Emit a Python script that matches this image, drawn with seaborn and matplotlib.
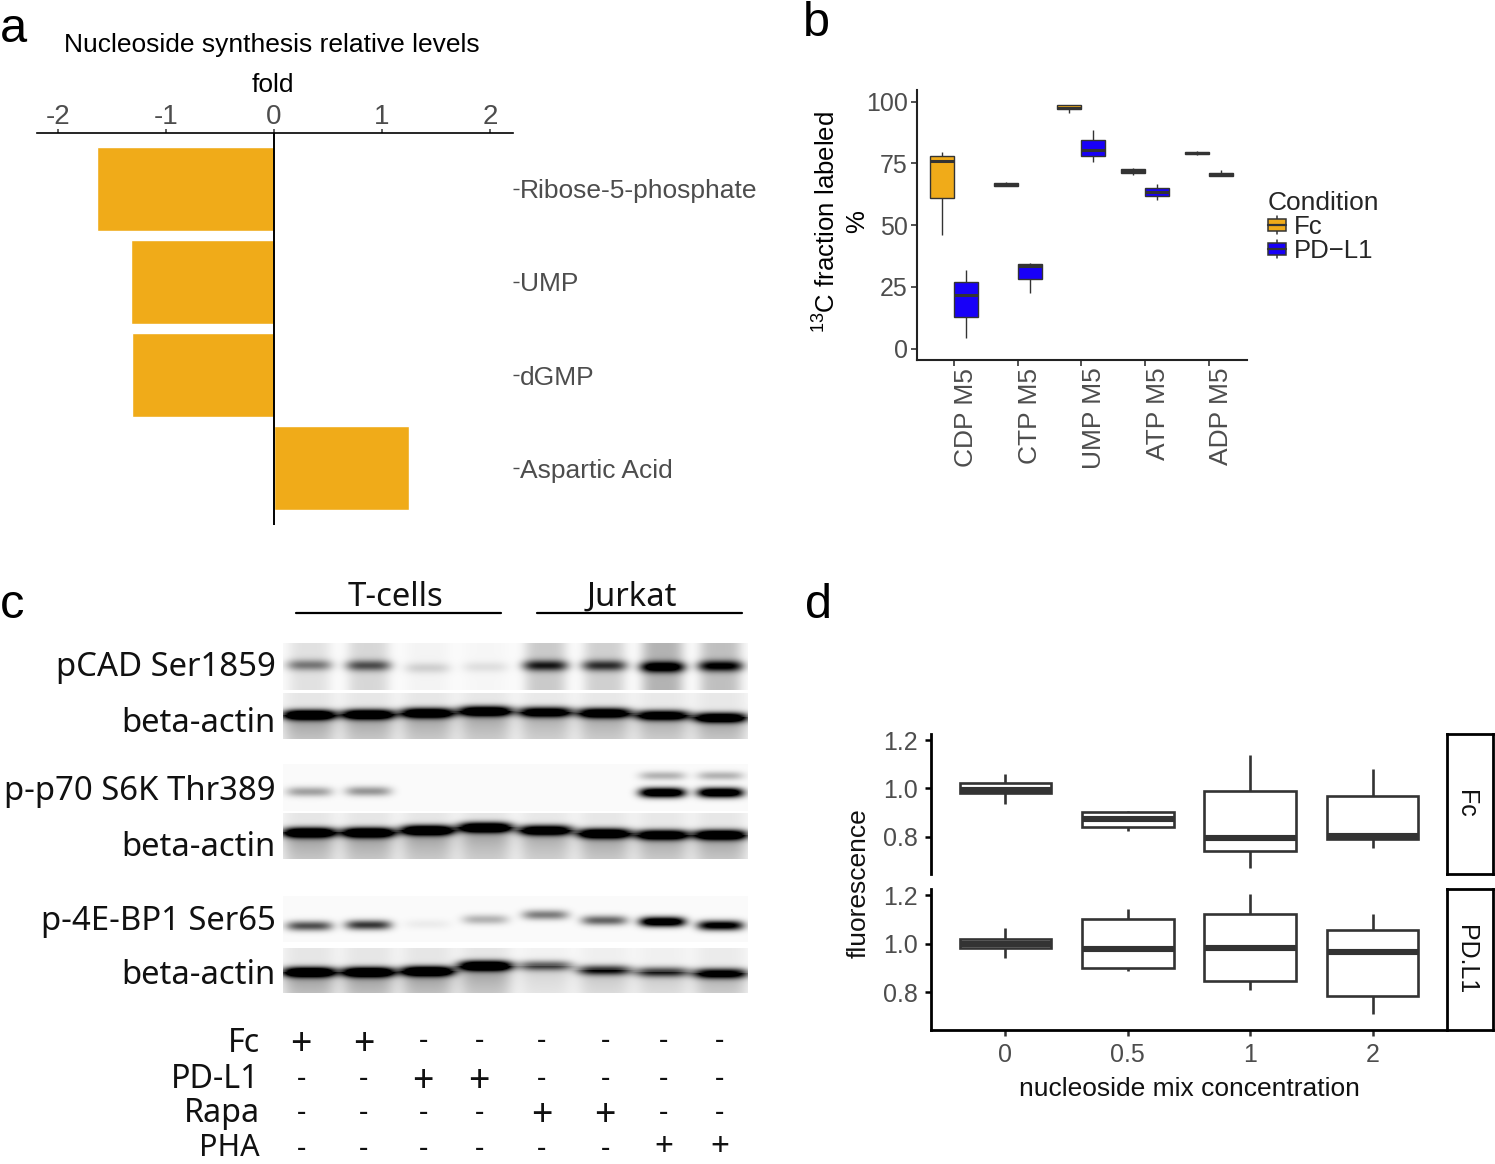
import numpy as np
import pandas as pd
import matplotlib
matplotlib.use('Agg')
import matplotlib.pyplot as plt
import matplotlib.patches as mpatches
from matplotlib.legend_handler import HandlerBase
from matplotlib.lines import Line2D
from matplotlib.transforms import ScaledTranslation
import seaborn as sns

# Panel a values
metabolites = ['Ribose-5-phosphate', 'UMP', 'dGMP', 'Aspartic Acid']
fold_values = [-1.64, -1.32, -1.31, 1.25]

# Panel b, each row is low whisker, q1, median, q3, high whisker
nucleotides = ['CDP M5', 'CTP M5', 'UMP M5', 'ATP M5', 'ADP M5']
fc_labeled = [[46, 61, 75.9, 77.8, 79.7],
              [65.7, 65.9, 66.4, 66.9, 67.3],
              [95.5, 96.9, 97.4, 98.6, 98.8],
              [70.3, 71.3, 72.1, 72.9, 73],
              [78.2, 78.7, 79.3, 79.8, 80]]
pdl1_labeled = [[4.5, 12.9, 21.7, 26.8, 32],
                [22.6, 28, 33.6, 34.1, 34.8],
                [75.6, 77.9, 80.4, 84.6, 88.6],
                [60.3, 61.8, 63.3, 65.2, 66.8],
                [69.8, 69.9, 70.5, 71.1, 72.2]]

# Panel d, same row layout
concentrations = ['0', '0.5', '1', '2']
fc_fluor = [[0.936, 0.983, 0.993, 1.021, 1.061],
            [0.824, 0.842, 0.875, 0.901, 0.908],
            [0.671, 0.739, 0.794, 0.9875, 1.14],
            [0.751, 0.79, 0.803, 0.967, 1.08]]
pdl1_fluor = [[0.94, 0.982, 1.0, 1.018, 1.065],
              [0.8875, 0.901, 0.979, 1.104, 1.144],
              [0.811, 0.847, 0.982, 1.121, 1.207],
              [0.71, 0.787, 0.965, 1.056, 1.122]]

# Panel c, band darkness per lane and band height inside the strip
blot_labels = ['pCAD Ser1859', 'beta-actin', 'p-p70 S6K Thr389', 'beta-actin', 'p-4E-BP1 Ser65', 'beta-actin']
pcad_dark = [0.42, 0.55, 0.14, 0.09, 0.72, 0.65, 1.0, 0.85]
pcad_pos = [0.46, 0.47, 0.52, 0.5, 0.47, 0.47, 0.5, 0.48]
actin1_dark = [1.0, 0.95, 0.95, 0.95, 0.85, 0.9, 0.85, 0.9]
actin1_pos = [0.46, 0.45, 0.42, 0.38, 0.40, 0.42, 0.47, 0.52]
p70_dark = [0.25, 0.28, 0, 0, 0, 0, 1.0, 1.0]
p70_pos = [0.58, 0.57, 0.5, 0.5, 0.5, 0.5, 0.6, 0.6]
actin2_dark = [1.0, 1.0, 1.0, 1.0, 0.9, 0.95, 0.9, 0.95]
actin2_pos = [0.41, 0.41, 0.36, 0.30, 0.36, 0.43, 0.46, 0.46]
bp1_dark = [0.48, 0.55, 0.04, 0.2, 0.35, 0.42, 0.95, 0.8]
bp1_pos = [0.64, 0.62, 0.6, 0.5, 0.4, 0.52, 0.55, 0.63]
actin3_dark = [1.0, 1.0, 1.0, 1.0, 0.42, 0.55, 0.5, 0.75]
actin3_pos = [0.52, 0.52, 0.5, 0.38, 0.38, 0.48, 0.52, 0.55]

# Treatment table under the blots
treatments = ['Fc', 'PD-L1', 'Rapa', 'PHA']
fc_signs = ['+', '+', '-', '-', '-', '-', '-', '-']
pdl1_signs = ['-', '-', '+', '+', '-', '-', '-', '-']
rapa_signs = ['-', '-', '-', '-', '+', '+', '-', '-']
pha_signs = ['-', '-', '-', '-', '-', '-', '+', '+']

ORANGE = '#F0AB19'
BLUE = '#1800F8'
DARK = '#333333'
TICK = '#4D4D4D'
W, H = 1495, 1164
C_FONT = ['Noto Sans', 'DejaVu Sans']

sns.set_theme(style='white')
plt.rcParams['font.family'] = ['Liberation Sans', 'DejaVu Sans']
plt.rcParams['mathtext.default'] = 'regular'

fig = plt.figure(figsize=(W / 100, H / 100), dpi=100)


def px_axes(left, top, right, bottom):
    return fig.add_axes([left / W, 1 - bottom / H, (right - left) / W, (bottom - top) / H])


def px_text(x, y, s, **kw):
    kw.setdefault('va', 'center')
    return fig.text(x / W, 1 - y / H, s, **kw)


def long_boxes(rows, groups, group_name):
    # five number rows to a long table, whiskers come out as min and max
    return pd.DataFrame([{group_name: g, 'value': v} for g, row in zip(groups, rows) for v in row])


# a: fold change bars
ax_a = px_axes(37, 133, 513, 525)
sns.barplot(x=fold_values, y=metabolites, color=ORANGE, saturation=1, width=0.9, orient='h', ax=ax_a)
ax_a.set_xlim(-2.194, 2.213)
ax_a.set_ylim(3.61, -0.6)
ax_a.axvline(0, color='black', lw=1.4)
ax_a.xaxis.tick_top()
ax_a.set_xticks([-2, -1, 0, 1, 2], ['-2', '-1', '0', '1', '2'])
ax_a.yaxis.tick_right()
ax_a.tick_params(axis='x', labelsize=20, labelcolor=TICK, length=3, color=TICK, pad=-1, top=True)
ax_a.tick_params(axis='y', labelsize=19, labelcolor=TICK, length=4, color=TICK, pad=1, right=True, width=1)
for side in ['left', 'right', 'bottom']:
    ax_a.spines[side].set_visible(False)
ax_a.spines['top'].set_color('black')
ax_a.spines['top'].set_linewidth(1.2)
px_text(271.5, 45, 'Nucleoside synthesis relative levels', fontsize=19, ha='center', color='black')
px_text(273, 85, 'fold', fontsize=19, ha='center', color='black')

# b: labeled fractions
ax_b = px_axes(917, 90, 1247, 360)
df_b = pd.concat([long_boxes(fc_labeled, nucleotides, 'metabolite').assign(condition='Fc'),
                  long_boxes(pdl1_labeled, nucleotides, 'metabolite').assign(condition='PD\u2212L1')])
sns.boxplot(data=df_b, x='metabolite', y='value', hue='condition', order=nucleotides,
            palette={'Fc': ORANGE, 'PD\u2212L1': BLUE}, saturation=1, width=0.75, gap=0,
            whis=(0, 100), fliersize=0, linewidth=1.0, linecolor=DARK,
            medianprops={'linewidth': 2.2}, capprops={'visible': False}, legend=False, ax=ax_b)
ax_b.set_xlim(-0.58, 4.6)
ax_b.set_ylim(-4.6, 104.7)
ax_b.set_yticks([0, 25, 50, 75, 100])
ax_b.tick_params(axis='x', labelsize=19, labelcolor=TICK, rotation=90, length=4, width=1.2, color=DARK, pad=1.5, bottom=True)
ax_b.tick_params(axis='y', labelsize=18, labelcolor=TICK, length=4, width=1.2, color=DARK, pad=2.5, left=True)
shift_right = ScaledTranslation(0.125, 0, fig.dpi_scale_trans)
for tick_label in ax_b.get_xticklabels():
    tick_label.set_transform(tick_label.get_transform() + shift_right)
ax_b.set_xlabel('')
ax_b.set_ylabel('$^{13}$C fraction labeled\n%', fontsize=18.5, color='black', labelpad=-2, linespacing=1.25)
ax_b.yaxis.label.set_y(0.511)
sns.despine(ax=ax_b)
for side in ['left', 'bottom']:
    ax_b.spines[side].set_color('#222222')
    ax_b.spines[side].set_linewidth(1.5)


class BoxKey(HandlerBase):
    # legend key in the ggplot look: box, median and a bit of whisker
    def create_artists(self, legend, orig, x0, y0, width, height, fontsize, trans):
        mid = x0 + width / 2
        cy = y0 + height / 2
        box = mpatches.Rectangle((x0, cy - 4.2), width, 8.4, facecolor=orig.get_facecolor(),
                                 edgecolor=DARK, lw=1.1, transform=trans)
        med = Line2D([x0, x0 + width], [cy, cy], color=DARK, lw=1.6, transform=trans)
        whisk = Line2D([mid, mid], [cy - 6.5, cy + 6.5], color=DARK, lw=1.1, transform=trans)
        return [whisk, box, med]


leg = fig.legend(handles=[mpatches.Patch(facecolor=ORANGE), mpatches.Patch(facecolor=BLUE)],
                 labels=['Fc', 'PD\u2212L1'], title='Condition', loc='upper left',
                 bbox_to_anchor=(1260 / W, 1 - 183 / H), frameon=False, fontsize=18.5, title_fontsize=19,
                 alignment='left', handler_map={mpatches.Patch: BoxKey()}, handlelength=0.7, handleheight=0.7,
                 handletextpad=0.3, labelspacing=-0.02, borderpad=0.3, borderaxespad=0)
leg._legend_box.sep = 0.35

# c: blots
lane_x = [301, 364, 423, 479, 542, 605, 664, 720]
band_x = [309, 368, 427, 485, 545, 604, 662, 720]
blot_rows = [
    (643, 690, pcad_dark, pcad_pos, 'smear'),
    (693, 739, actin1_dark, actin1_pos, 'tail'),
    (764, 811, p70_dark, p70_pos, 'double'),
    (813, 859, actin2_dark, actin2_pos, 'tail'),
    (896, 942, bp1_dark, bp1_pos, 'plain'),
    (948, 993, actin3_dark, actin3_pos, 'faint'),
]
blot_left, blot_right = 283, 748
label_y = [668, 723, 791, 848, 922, 975]
for (top, bottom, dark, pos, kind), label, ly in zip(blot_rows, blot_labels, label_y):
    ax_c = px_axes(blot_left, top, blot_right, bottom)
    h, w = bottom - top, blot_right - blot_left
    yy, xx = np.mgrid[0:h, 0:w]
    img = np.full((h, w), 0.02)
    for lane, d, p in zip(band_x, dark, pos):
        cx = lane - blot_left
        yc = p * h
        half = {'smear': 23, 'double': 23, 'plain': 23}.get(kind, 27)
        across = np.exp(-((xx - cx) / half) ** 4)
        if kind == 'smear':
            img += 1.0 * d * across * np.exp(-((yy - yc) / 5.5) ** 2)
            img += 0.28 * d ** 1.2 * np.exp(-((xx - cx) / 21) ** 4)
        else:
            img += 1.4 * d * across * np.exp(-((yy - yc) / 5) ** 2)
        if kind in ('tail', 'faint'):
            img += 0.36 * d * across * np.exp(-np.clip(yy - yc, 0, None) / 26) * (yy > yc)
            img += 0.08 * d * across
        elif kind == 'double' and d > 0.5:
            img += 0.28 * across * np.exp(-((yy - 0.24 * h) / 4.5) ** 2)
    sns.heatmap(np.clip(img, 0, 1), cmap='gray_r', vmin=0, vmax=1, cbar=False,
                xticklabels=False, yticklabels=False, ax=ax_c)
    px_text(276, ly, label, fontsize=23.7, ha='right', color='#111111', family=C_FONT)

for name, x0, x1, cx in [('T-cells', 296, 501, 395), ('Jurkat', 537, 742, 632)]:
    px_text(cx, 597, name, fontsize=23.7, ha='center', color='#111111', family=C_FONT)
    fig.add_artist(Line2D([x0 / W, x1 / W], [1 - 613 / H, 1 - 613 / H], color='black', lw=1.6))

# last row sits right on the picture edge, so it is a bit smaller and higher
table_rows = [(fc_signs, 1043, 23.2, 1045, 27, 1042),
              (pdl1_signs, 1080, 23.2, 1082, 27, 1079),
              (rapa_signs, 1114, 23.2, 1116, 27, 1113),
              (pha_signs, 1148, 22, 1147, 24, 1149)]
for name, (signs, ty, name_size, plus_y, plus_size, dash_y) in zip(treatments, table_rows):
    px_text(260, ty, name, fontsize=name_size, ha='right', color='#111111', family=C_FONT)
    for lane, sign in zip(lane_x, signs):
        if sign == '+':
            px_text(lane, plus_y, sign, fontsize=plus_size, ha='center', color='#111111', family=C_FONT)
        else:
            px_text(lane, dash_y, sign, fontsize=21, ha='center', color='#111111', family=C_FONT)

# d: fluorescence facets
for rows, top, bottom, name in [(fc_fluor, 734, 874, 'Fc'), (pdl1_fluor, 889, 1030, 'PD.L1')]:
    ax_d = px_axes(931, top, 1446, bottom)
    sns.boxplot(data=long_boxes(rows, concentrations, 'conc'), x='conc', y='value', order=concentrations,
                color='white', saturation=1, width=0.75, whis=(0, 100), fliersize=0, linewidth=1.9,
                linecolor=DARK, medianprops={'linewidth': 4.4}, capprops={'visible': False}, ax=ax_d)
    ax_d.set_xlim(-0.608, 3.6)
    ax_d.set_ylim(0.645, 1.226)
    ax_d.set_yticks([0.8, 1.0, 1.2], ['0.8', '1.0', '1.2'])
    ax_d.set_xlabel('')
    ax_d.set_ylabel('')
    ax_d.tick_params(axis='y', labelsize=18, labelcolor=TICK, length=4, width=1.8, color='black', pad=5.5, left=True)
    sns.despine(ax=ax_d)
    ax_d.spines['left'].set_color('black')
    ax_d.spines['left'].set_linewidth(2)
    if name == 'Fc':
        ax_d.spines['bottom'].set_visible(False)
        ax_d.tick_params(axis='x', bottom=False, labelbottom=False)
    else:
        ax_d.spines['bottom'].set_color('black')
        ax_d.spines['bottom'].set_linewidth(2)
        ax_d.tick_params(axis='x', labelsize=18, labelcolor=TICK, length=4, width=1.8, color=DARK, pad=5, bottom=True)
    strip = px_axes(1447, top, 1493, bottom)
    strip.set_xticks([])
    strip.set_yticks([])
    for spine in strip.spines.values():
        spine.set_color('black')
        spine.set_linewidth(2)
    strip.text(0.42, 0.5, name, rotation=-90, ha='center', va='center', fontsize=18,
               color='#111111', transform=strip.transAxes)

px_text(1189, 1089, 'nucleoside mix concentration', fontsize=19, ha='center', color='#111111')
px_text(859, 883, 'fluorescence', fontsize=19, ha='center', rotation=90, color='#111111')

# Panel letters
for letter, x, y in [('a', 0, 29), ('b', 803, 24), ('c', 0, 606), ('d', 805, 606)]:
    px_text(x, y, letter, fontsize=35, ha='left', color='black')

fig.savefig('out.png', dpi=100, facecolor='white')
